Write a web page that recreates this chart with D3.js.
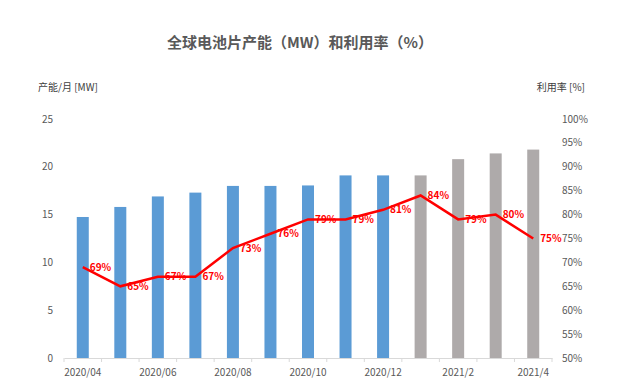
<!DOCTYPE html>
<html>
<head>
<meta charset="utf-8">
<script src="https://cdn.jsdelivr.net/npm/d3@7"></script>
<style>
  body { margin: 0; background: #fff; }
  svg text { font-family: "Noto Sans CJK SC", "Noto Sans", sans-serif; }
</style>
</head>
<body>
<svg id="chart" width="626" height="389"></svg>
<script>
// data
var months = ["2020/04", "2020/05", "2020/06", "2020/07", "2020/08", "2020/09", "2020/10",
  "2020/11", "2020/12", "2021/1", "2021/2", "2021/3", "2021/4"];
var capacity = [14.75, 15.8, 16.9, 17.3, 18.0, 18.0, 18.05, 19.1, 19.1, 19.1, 20.8, 21.4, 21.8];
var utilization = [69, 65, 67, 67, 73, 76, 79, 79, 81, 84, 79, 80, 75];
var forecast = [false, false, false, false, false, false, false, false, false, true, true, true, true];
var shownMonths = ["2020/04", "2020/06", "2020/08", "2020/10", "2020/12", "2021/2", "2021/4"];
var leftTicks = [0, 5, 10, 15, 20, 25];
var rightTicks = [50, 55, 60, 65, 70, 75, 80, 85, 90, 95, 100];

var svg = d3.select("#chart");
var plotLeft = 64, plotRight = 552, plotTop = 119, plotBottom = 358;

var x = d3.scaleBand().domain(months).range([plotLeft, plotRight]);
var yL = d3.scaleLinear().domain([0, 25]).range([plotBottom, plotTop]);
var yR = d3.scaleLinear().domain([50, 100]).range([plotBottom, plotTop]);

// title
svg.append("text")
  .attr("x", 300).attr("y", 48)
  .attr("text-anchor", "middle")
  .attr("font-size", 15).attr("font-weight", "bold")
  .attr("fill", "#595959")
  .text("全球电池片产能（MW）和利用率（%）");

// axis titles
svg.append("text")
  .attr("x", 38).attr("y", 91)
  .attr("font-size", 10).attr("fill", "#404040")
  .text("产能/月 [MW]");
svg.append("text")
  .attr("x", 585).attr("y", 91)
  .attr("text-anchor", "end")
  .attr("font-size", 10).attr("fill", "#404040")
  .text("利用率 [%]");

// left axis
svg.append("g").selectAll("text")
  .data(leftTicks)
  .enter().append("text")
  .attr("x", 53).attr("y", function(d) { return yL(d); })
  .attr("dy", "0.35em")
  .attr("text-anchor", "end")
  .attr("font-size", 10).attr("fill", "#595959")
  .text(function(d) { return d; });

// right axis
svg.append("g").selectAll("text")
  .data(rightTicks)
  .enter().append("text")
  .attr("x", 562).attr("y", function(d) { return yR(d); })
  .attr("dy", "0.35em")
  .attr("font-size", 10).attr("fill", "#595959")
  .text(function(d) { return d + "%"; });

// bars
svg.append("g").selectAll("rect")
  .data(capacity)
  .enter().append("rect")
  .attr("x", function(d, i) { return x(months[i]) + x.bandwidth() / 2 - 6; })
  .attr("width", 12)
  .attr("y", function(d) { return yL(d); })
  .attr("height", function(d) { return plotBottom - yL(d); })
  .attr("fill", function(d, i) { return forecast[i] ? "#AEAAAA" : "#5B9BD5"; });

// x axis line and ticks
var xAxis = svg.append("g").attr("transform", "translate(0," + plotBottom + ")")
  .call(d3.axisBottom(x).tickSize(0).tickFormat(function(d) { return shownMonths.indexOf(d) >= 0 ? d : ""; }));
xAxis.select(".domain").attr("stroke", "#D9D9D9");
xAxis.selectAll("text").attr("font-size", 10).attr("fill", "#595959").attr("dy", "1.5em");
xAxis.selectAll(".sep")
  .data(d3.range(months.length + 1))
  .enter().append("line")
  .attr("class", "sep")
  .attr("x1", function(i) { return plotLeft + i * x.step(); })
  .attr("x2", function(i) { return plotLeft + i * x.step(); })
  .attr("y1", 0).attr("y2", 4)
  .attr("stroke", "#D9D9D9");

// utilization line
var line = d3.line()
  .x(function(d, i) { return x(months[i]) + x.bandwidth() / 2; })
  .y(function(d) { return yR(d); });

svg.append("path")
  .datum(utilization)
  .attr("d", line)
  .attr("fill", "none")
  .attr("stroke", "#FF0000")
  .attr("stroke-width", 2.5);

svg.append("g").selectAll("text")
  .data(utilization)
  .enter().append("text")
  .attr("x", function(d, i) { return x(months[i]) + x.bandwidth() / 2 + 7; })
  .attr("y", function(d) { return yR(d); })
  .attr("dy", "0.35em")
  .attr("font-size", 10).attr("font-weight", "bold")
  .attr("fill", "#FF0000")
  .text(function(d) { return d + "%"; });
</script>
</body>
</html>
